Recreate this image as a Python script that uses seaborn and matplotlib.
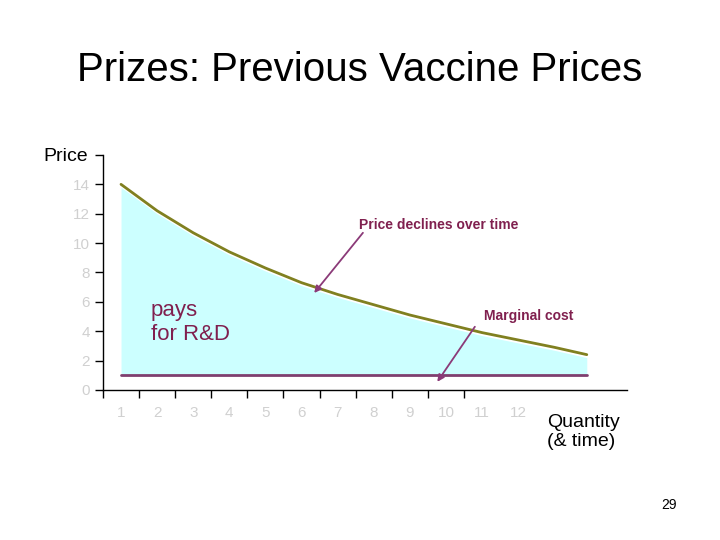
import matplotlib
matplotlib.use("Agg")
import matplotlib.pyplot as plt
import seaborn as sns
import pandas as pd

# ======================================
# DATA
# ======================================

quantity = [1, 2, 3, 4, 5, 6, 7, 8, 9, 10, 11, 12, 13, 13.9]
price = [14.0, 12.2, 10.7, 9.4, 8.3, 7.3, 6.5, 5.8, 5.1, 4.5, 3.9, 3.4, 2.9, 2.4]
marginal_cost = 1.0
x_labels = [str(i) for i in range(1, 13)]
y_ticks = [0, 2, 4, 6, 8, 10, 12, 14, 16]

df = pd.DataFrame({"quantity": quantity, "price": price})

# ======================================
# PLOT
# ======================================

sns.set_style("white")
plt.rcParams["font.family"] = ["Liberation Sans", "DejaVu Sans"]
plt.rcParams["text.color"] = "black"

fig = plt.figure(figsize=(7.2, 5.4), dpi=100)
ax = fig.add_axes([0.143, 0.278, 0.677, 0.435])

ax.fill_between(df["quantity"], marginal_cost, df["price"] - 0.2,
                color="#CCFFFF", linewidth=0)
sns.lineplot(data=df, x="quantity", y="price", ax=ax,
             color="#808020", linewidth=2)
ax.plot([1, 13.9], [marginal_cost, marginal_cost], color="#7F3F6F", linewidth=2)

ax.set_xlim(0.5, 14)
ax.set_ylim(0, 16)
ax.set_xlabel("")
ax.set_ylabel("")

ax.set_yticks(y_ticks)
ax.set_yticklabels([str(v) if v < 16 else "" for v in y_ticks],
                   color="#d0d0d0", fontsize=11)
ax.set_xticks([i + 0.5 for i in range(0, 11)])
ax.set_xticklabels([])
for i, lab in enumerate(x_labels):
    ax.text(i + 1, -1.6, lab, ha="center", va="center",
            color="#d0d0d0", fontsize=11)
ax.tick_params(axis="both", direction="out", length=6, width=1,
               color="black", left=True, bottom=True)

for side in ["top", "right"]:
    ax.spines[side].set_visible(False)
for side in ["left", "bottom"]:
    ax.spines[side].set_color("black")
    ax.spines[side].set_linewidth(1)
ax.spines["bottom"].set_bounds(0.5, 15)

# ======================================
# ANNOTATIONS
# ======================================

label_color = "#80204F"
arrow_color = "#8B3A78"

ax.text(7.6, 11.2, "Price declines over time", color=label_color,
        fontsize=10, fontweight="bold", ha="left", va="center")
ax.annotate("", xy=(6.35, 6.6), xytext=(7.7, 10.7),
            arrowprops=dict(arrowstyle="-|>", color=arrow_color, lw=1.3,
                            shrinkA=0, shrinkB=0))
ax.text(12.3, 5.0, "Marginal cost", color=label_color,
        fontsize=10, fontweight="bold", ha="center", va="center")
ax.annotate("", xy=(9.76, 0.55), xytext=(10.8, 4.3),
            arrowprops=dict(arrowstyle="-|>", color=arrow_color, lw=1.3,
                            shrinkA=0, shrinkB=0))
ax.text(1.83, 4.6, "pays\nfor R&D", color=label_color, fontsize=16,
        ha="left", va="center", linespacing=1.2)

fig.text(0.5, 0.87, "Prizes: Previous Vaccine Prices", ha="center",
         va="center", fontsize=29)
fig.text(0.06, 0.71, "Price", fontsize=14, ha="left", va="center")
fig.text(0.76, 0.2, "Quantity\n(& time)", fontsize=14, ha="left",
         va="center", linespacing=1.2)
fig.text(0.94, 0.065, "29", fontsize=10, ha="right", va="center")

fig.savefig("out.png", dpi=100)
